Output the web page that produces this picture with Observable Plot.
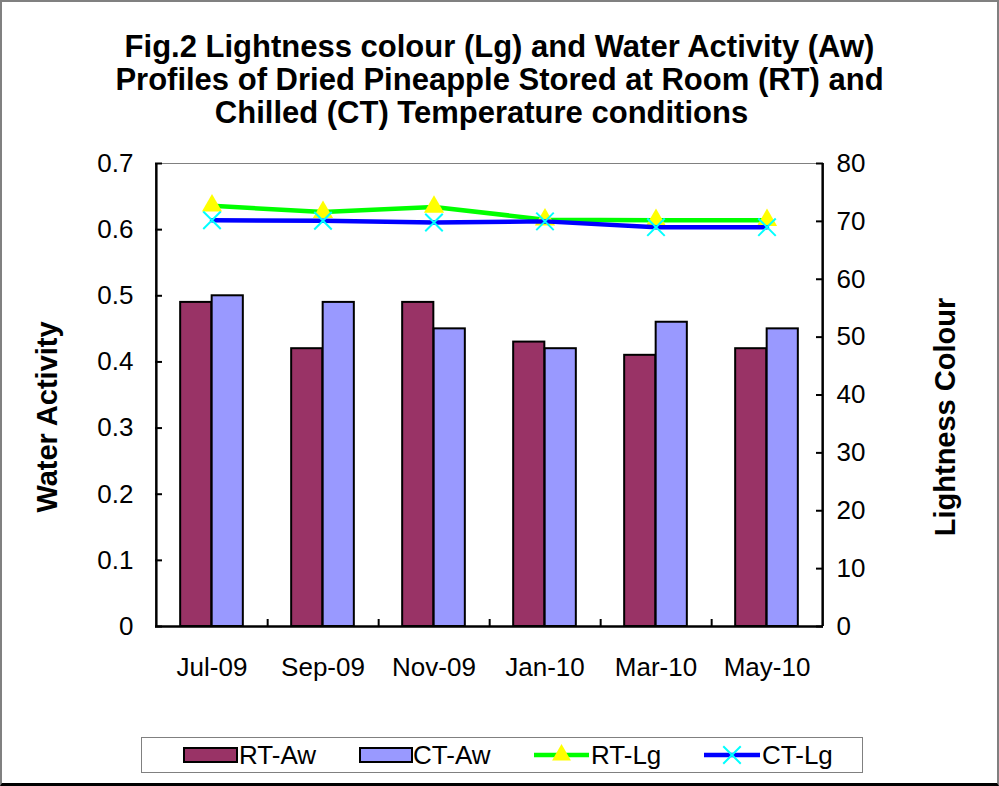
<!DOCTYPE html>
<html>
<head>
<meta charset="utf-8">
<script src="https://cdn.jsdelivr.net/npm/d3@7"></script>
<script src="https://cdn.jsdelivr.net/npm/@observablehq/plot@0.6"></script>
<style>
  html, body { margin: 0; padding: 0; background: #fff; }
  #wrap { position: relative; width: 999px; height: 786px; overflow: hidden; font-family: "Liberation Sans", Arial, sans-serif; color: #000; }
  #border { position: absolute; left: 0; top: 0; width: 999px; height: 786px; box-sizing: border-box;
            border-top: 2px solid #808080; border-left: 2px solid #808080; border-right: 2px solid #808080; border-bottom: 3px solid #000; pointer-events: none; }
  #chart { position: absolute; left: 0; top: 0; }
  #title { position: absolute; left: 0; top: 30px; width: 999px; text-align: center; font-weight: bold; font-size: 31px; line-height: 33px; }
  .ylab { position: absolute; font-weight: bold; font-size: 29px; white-space: nowrap; transform: translate(-50%, -50%) rotate(-90deg); }
  #legend { position: absolute; left: 0; top: 0; }
</style>
</head>
<body>
<div id="wrap">
  <div id="chart"></div>
  <div id="title">
    <div>Fig.2 Lightness colour (Lg) and Water Activity (Aw)</div>
    <div>Profiles of Dried Pineapple Stored at Room (RT) and</div>
    <div style="position:relative; left:-18px;">Chilled (CT) Temperature conditions</div>
  </div>
  <div class="ylab" style="left:47px; top:417px;">Water Activity</div>
  <div class="ylab" style="left:945px; top:417px;">Lightness Colour</div>
  <svg id="legend" width="999" height="786"></svg>
  <div id="border"></div>
</div>
<script>
// ---- data ----
const months = ["Jul-09", "Sep-09", "Nov-09", "Jan-10", "Mar-10", "May-10"];
const rtAw = [0.49, 0.42, 0.49, 0.43, 0.41, 0.42];
const ctAw = [0.50, 0.49, 0.45, 0.42, 0.46, 0.45];
const rtLg = [72.7, 71.6, 72.5, 70.3, 70.2, 70.2];
const ctLg = [70.2, 70.1, 69.8, 70.0, 69.0, 69.0];
const awTicks = [0, 0.1, 0.2, 0.3, 0.4, 0.5, 0.6, 0.7];
const lgTicks = [0, 10, 20, 30, 40, 50, 60, 70, 80];
const seriesNames = ["RT-Aw", "CT-Aw", "RT-Lg", "CT-Lg"];

const awMax = 0.7, lgMax = 80;
const toAw = v => v * awMax / lgMax;

const data = months.map((m, i) => ({month: m, rtAw: rtAw[i], ctAw: ctAw[i], rtLg: rtLg[i], ctLg: ctLg[i]}));

// ---- layout ----
const W = 999, H = 786;
const mL = 155, mR = 176, mT = 163, mB = 160;
const plotW = W - mL - mR, plotH = H - mT - mB;
const band = plotW / months.length, half = band / 2;
const barW = 31.5;
const tickLen = 7;

const colRT = "#993366", colCT = "#9999FF", colRTLg = "#00FF00", colCTLg = "#0000FF";

const chart = Plot.plot({
  width: W, height: H,
  marginLeft: mL, marginRight: mR, marginTop: mT, marginBottom: mB,
  style: {fontFamily: "Liberation Sans, Arial, sans-serif", color: "#000", background: "transparent"},
  x: {type: "band", domain: months, padding: 0, label: null},
  y: {domain: [0, awMax], label: null},
  marks: [
    Plot.barY(data, {x: "month", y: "rtAw", fill: colRT, stroke: "#000", strokeWidth: 2, insetLeft: half - barW, insetRight: half}),
    Plot.barY(data, {x: "month", y: "ctAw", fill: colCT, stroke: "#000", strokeWidth: 2, insetLeft: half, insetRight: half - barW}),
    Plot.ruleY([awMax], {stroke: "#808080", strokeWidth: 1}),
    Plot.ruleY([0], {stroke: "#000", strokeWidth: 2.5}),
    Plot.ruleX([months[0]], {dx: -half, stroke: "#000", strokeWidth: 2.5}),
    Plot.ruleX([months[months.length - 1]], {dx: half, stroke: "#000", strokeWidth: 2.5}),
    Plot.tickY(awTicks, {y: d => d, stroke: "#000", strokeWidth: 2, insetRight: plotW - tickLen}),
    Plot.tickY(lgTicks, {y: d => toAw(d), stroke: "#000", strokeWidth: 2, insetLeft: plotW - tickLen}),
    Plot.tickX(months.slice(0, -1), {x: d => d, dx: half, stroke: "#000", strokeWidth: 2, insetTop: plotH - tickLen}),
    Plot.axisY({anchor: "left", ticks: awTicks, tickSize: 0, tickPadding: 22, fontSize: 26, label: null, tickFormat: d => String(+d.toFixed(1))}),
    Plot.axisY({anchor: "right", ticks: lgTicks.map(toAw), tickSize: 0, tickPadding: 13, fontSize: 26, label: null, tickFormat: d => String(Math.round(d * lgMax / awMax))}),
    Plot.axisX({anchor: "bottom", tickSize: 0, tickPadding: 31, fontSize: 26, label: null}),
    Plot.line(data, {x: "month", y: d => toAw(d.rtLg), stroke: colRTLg, strokeWidth: 4.5}),
    Plot.dot(data, {x: "month", y: d => toAw(d.rtLg), symbol: "triangle", r: 7.5, fill: "#FFFF00", stroke: "none"}),
    Plot.line(data, {x: "month", y: d => toAw(d.ctLg), stroke: colCTLg, strokeWidth: 4.5}),
    Plot.dot(data, {x: "month", y: d => toAw(d.ctLg), symbol: "times", r: 8, stroke: "#00FFFF", strokeWidth: 2})
  ]
});
document.getElementById("chart").appendChild(chart);

// ---- legend ----
const lg = d3.select("#legend");
lg.append("rect").attr("x", 141.5).attr("y", 737.5).attr("width", 721).attr("height", 35)
  .attr("fill", "#fff").attr("stroke", "#808080").attr("stroke-width", 1);
const ly = 755;
const items = [
  {name: seriesNames[0], kind: "bar", color: colRT, x0: 184, x1: 237, tx: 239},
  {name: seriesNames[1], kind: "bar", color: colCT, x0: 360, x1: 412, tx: 413},
  {name: seriesNames[2], kind: "line", color: colRTLg, x0: 534, x1: 589, tx: 591},
  {name: seriesNames[3], kind: "line", color: colCTLg, x0: 704, x1: 760, tx: 762}
];
items.forEach(it => {
  if (it.kind === "bar") {
    lg.append("rect").attr("x", it.x0).attr("y", ly - 7).attr("width", it.x1 - it.x0).attr("height", 14)
      .attr("fill", it.color).attr("stroke", "#000").attr("stroke-width", 2);
  } else {
    lg.append("line").attr("x1", it.x0).attr("x2", it.x1).attr("y1", ly).attr("y2", ly)
      .attr("stroke", it.color).attr("stroke-width", 4.5);
    const cx = (it.x0 + it.x1) / 2;
    if (it.name === "RT-Lg") {
      lg.append("path").attr("transform", `translate(${cx},${ly})`)
        .attr("d", d3.symbol(d3.symbolTriangle, Math.PI * 7 * 7)()).attr("fill", "#FFFF00");
    } else {
      lg.append("path").attr("transform", `translate(${cx},${ly})`)
        .attr("d", d3.symbol(d3.symbolTimes, Math.PI * 8 * 8)()).attr("fill", "none").attr("stroke", "#00FFFF").attr("stroke-width", 2);
    }
  }
  lg.append("text").attr("x", it.tx).attr("y", ly + 9).attr("font-size", 26)
    .attr("font-family", "Liberation Sans, Arial, sans-serif").attr("fill", "#000").text(it.name);
});
</script>
</body>
</html>
